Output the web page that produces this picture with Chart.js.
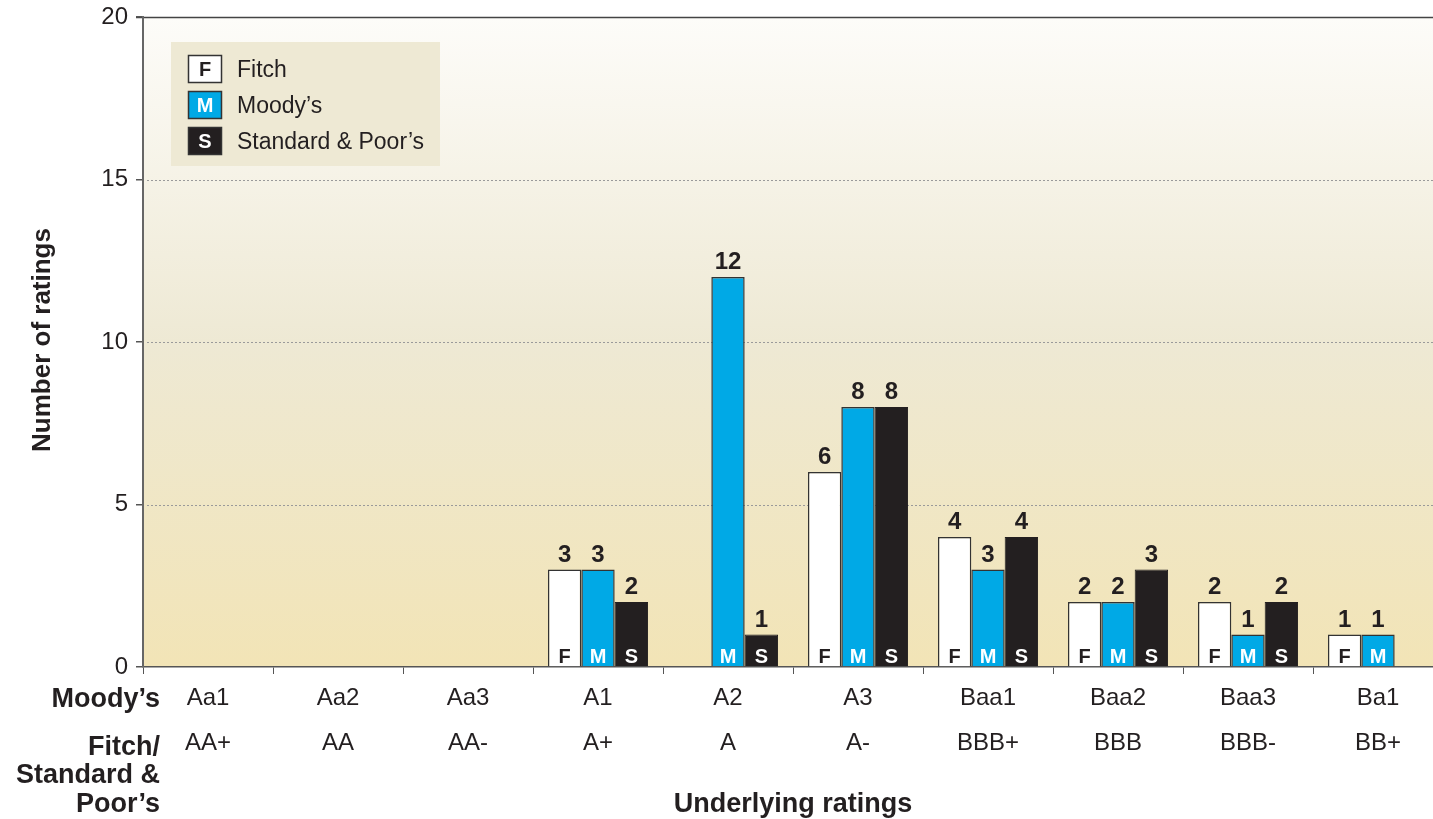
<!DOCTYPE html>
<html>
<head>
<meta charset="utf-8">
<script src="https://cdn.jsdelivr.net/npm/chart.js@4.4.0/dist/chart.umd.min.js"></script>
<style>
  html, body { margin: 0; padding: 0; background: #fff; overflow: hidden; }
  #wrap { position: absolute; left: 0; top: 0; width: 1443px; height: 819px; }
</style>
</head>
<body>
<div id="wrap"><canvas id="grafico" width="1443" height="819"></canvas></div>
<script>
// dados
const moodys = ['Aa1', 'Aa2', 'Aa3', 'A1', 'A2', 'A3', 'Baa1', 'Baa2', 'Baa3', 'Ba1'];
const fitchSp = ['AA+', 'AA', 'AA-', 'A+', 'A', 'A-', 'BBB+', 'BBB', 'BBB-', 'BB+'];
const fitch = [null, null, null, 3, null, 6, 4, 2, 2, 1];
const moody = [null, null, null, 3, 12, 8, 3, 2, 1, 1];
const sp = [null, null, null, 2, 1, 8, 4, 3, 2, null];
const yTicks = [0, 5, 10, 15, 20];

const FONTE = '"Liberation Sans", Arial, Helvetica, sans-serif';
const TEXTO = '#231f20';
const AZUL = '#00a9e6';
const PRETO = '#231f20';

Chart.defaults.font.family = FONTE;
Chart.defaults.color = TEXTO;

const letras = ['F', 'M', 'S'];
const corLetra = [TEXTO, '#ffffff', '#ffffff'];

const fundoPlugin = {
    id: 'fundo',
    beforeDraw(chart) {
        const { ctx, chartArea: a } = chart;
        const g = ctx.createLinearGradient(0, a.top, 0, a.bottom);
        g.addColorStop(0, '#fdfcf9');
        g.addColorStop(0.5, '#eee9d4');
        g.addColorStop(1, '#f2e4b6');
        ctx.save();
        ctx.fillStyle = g;
        ctx.fillRect(a.left, a.top, a.right - a.left, a.bottom - a.top);
        // linhas de grade pontilhadas
        const y = chart.scales.y;
        ctx.strokeStyle = '#9a9a9a';
        ctx.lineWidth = 1;
        ctx.setLineDash([2, 2]);
        for (const v of [5, 10, 15]) {
            const py = Math.round(y.getPixelForValue(v)) + 0.5;
            ctx.beginPath();
            ctx.moveTo(a.left + 4, py);
            ctx.lineTo(a.right, py);
            ctx.stroke();
        }
        ctx.setLineDash([]);
        // linha do topo
        const pTop = Math.round(y.getPixelForValue(20)) + 0.5;
        ctx.strokeStyle = '#444';
        ctx.lineWidth = 1.5;
        ctx.beginPath();
        ctx.moveTo(a.left - 7, pTop);
        ctx.lineTo(a.right, pTop);
        ctx.stroke();
        ctx.restore();
    },
    afterDatasetsDraw(chart) {
        const { ctx } = chart;
        ctx.save();
        ctx.textAlign = 'center';
        ctx.textBaseline = 'alphabetic';
        chart.data.datasets.forEach((ds, i) => {
            const meta = chart.getDatasetMeta(i);
            meta.data.forEach((bar, j) => {
                const v = ds.data[j];
                if (v == null) return;
                ctx.font = 'bold 24px ' + FONTE;
                ctx.fillStyle = TEXTO;
                ctx.fillText(String(v), bar.x, bar.y - 8);
                ctx.font = 'bold 20px ' + FONTE;
                ctx.fillStyle = corLetra[i];
                ctx.fillText(letras[i], bar.x, bar.base - 3);
            });
        });
        ctx.restore();
    },
    afterDraw(chart) {
        const { ctx } = chart;
        ctx.save();
        // legenda
        ctx.fillStyle = '#eee9d4';
        ctx.fillRect(171, 42, 269, 124);
        const cores = ['#ffffff', AZUL, PRETO];
        const nomes = ['Fitch', 'Moody\u2019s', 'Standard & Poor\u2019s'];
        for (let i = 0; i < 3; i++) {
            const top = 55 + i * 36;
            ctx.fillStyle = cores[i];
            ctx.fillRect(188, top, 34, 28);
            ctx.strokeStyle = '#333';
            ctx.lineWidth = 1.5;
            ctx.strokeRect(188.5, top + 0.5, 33, 27);
            ctx.textBaseline = 'alphabetic';
            ctx.font = 'bold 20px ' + FONTE;
            ctx.fillStyle = corLetra[i];
            ctx.textAlign = 'center';
            ctx.fillText(letras[i], 205, top + 21);
            ctx.font = '23px ' + FONTE;
            ctx.fillStyle = TEXTO;
            ctx.textAlign = 'left';
            ctx.fillText(nomes[i], 237, top + 22);
        }
        // titulos
        ctx.font = 'bold 27px ' + FONTE;
        ctx.fillStyle = TEXTO;
        ctx.textAlign = 'right';
        ctx.textBaseline = 'alphabetic';
        ctx.fillText('Moody\u2019s', 160, 707);
        ctx.fillText('Fitch/', 160, 755);
        ctx.fillText('Standard &', 160, 783);
        ctx.fillText('Poor\u2019s', 160, 812);
        ctx.textAlign = 'center';
        ctx.fillText('Underlying ratings', 793, 812);
        ctx.font = 'bold 26px ' + FONTE;
        ctx.translate(50, 340);
        ctx.rotate(-Math.PI / 2);
        ctx.fillText('Number of ratings', 0, 0);
        ctx.restore();
    }
};

const ctx = document.getElementById('grafico').getContext('2d');
new Chart(ctx, {
    type: 'bar',
    data: {
        labels: moodys.map((m, i) => [m, fitchSp[i]]),
        datasets: [
            { label: 'Fitch', data: fitch, backgroundColor: '#ffffff', borderColor: '#333', borderWidth: 1.5 },
            { label: 'Moody\u2019s', data: moody, backgroundColor: AZUL, borderColor: '#333', borderWidth: 1.5 },
            { label: 'Standard & Poor\u2019s', data: sp, backgroundColor: PRETO, borderColor: PRETO, borderWidth: 1 }
        ]
    },
    options: {
        responsive: false,
        animation: false,
        layout: { padding: { top: 17, left: 3, right: 0, bottom: 0 } },
        plugins: { legend: { display: false }, tooltip: { enabled: false } },
        datasets: { bar: { barPercentage: 1, categoryPercentage: 0.77 } },
        scales: {
            x: {
                grid: { offset: true, drawOnChartArea: false, drawTicks: true, tickLength: 7, color: '#555', lineWidth: 1 },
                border: { display: true, color: '#555', width: 1.5 },
                ticks: { autoSkip: false, maxRotation: 0, padding: 2, color: TEXTO, font: { size: 24, lineHeight: 1.875 } },
                afterFit(scale) { scale.height = 152; }
            },
            y: {
                min: 0,
                max: 20,
                afterBuildTicks(scale) { scale.ticks = yTicks.map(v => ({ value: v })); },
                grid: { drawOnChartArea: false, drawTicks: true, tickLength: 7, color: '#555', lineWidth: 1.5 },
                border: { display: true, color: '#666', width: 2 },
                ticks: { padding: 8, color: TEXTO, font: { size: 24, lineHeight: 1 } },
                afterFit(scale) { scale.width = 140; scale.paddingTop = 0; scale.paddingBottom = 0; }
            }
        }
    },
    plugins: [fundoPlugin]
});
</script>
</body>
</html>
